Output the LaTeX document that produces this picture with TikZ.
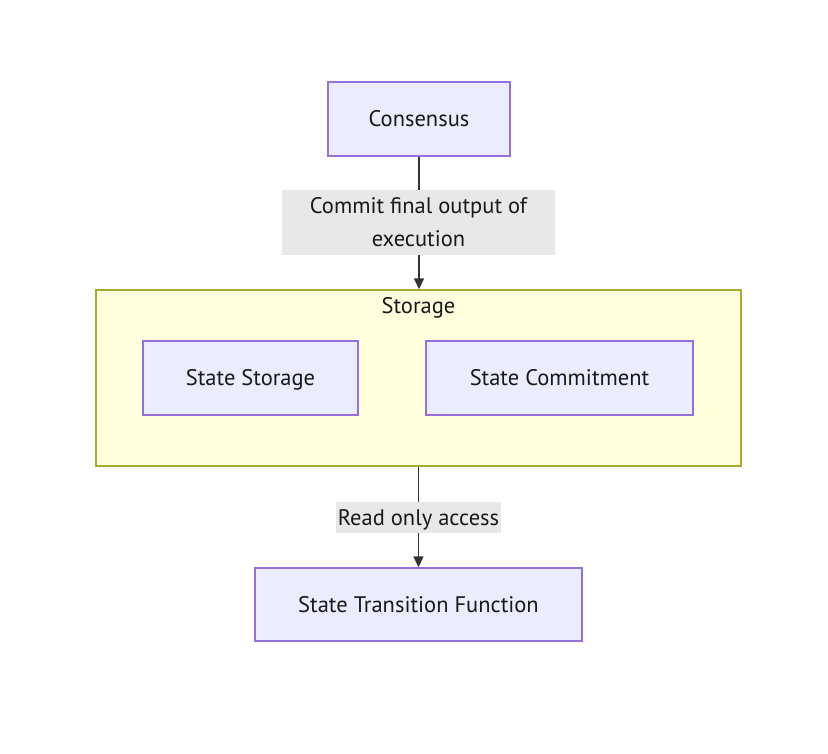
\documentclass[tikz,border=0pt]{standalone}
\usepackage{fontspec}
\setmainfont{PT Sans}
\usetikzlibrary{arrows.meta}
\definecolor{nodefill}{HTML}{ECECFF}
\definecolor{nodeline}{HTML}{9370DB}
\definecolor{clfill}{HTML}{FFFFDE}
\definecolor{clline}{HTML}{AAAA33}
\definecolor{lblbg}{HTML}{E8E8E8}
\definecolor{edge}{HTML}{333333}
\begin{document}
\begin{tikzpicture}[x=1pt,y=-1pt,
  every node/.style={font=\fontsize{22.5}{33}\selectfont, text=black!90, text height=17pt, text depth=2pt},
  box/.style={draw=nodeline, fill=nodefill, line width=1.4pt, rectangle, inner sep=0pt},
  cluster/.style={draw=clline, fill=clfill, line width=1.4pt, rectangle, inner sep=0pt},
  lbl/.style={fill=lblbg, inner sep=0pt, align=center},
  conn/.style={draw=edge, line width=1.4pt, -{Triangle[length=11pt,width=10pt]}}]
\useasboundingbox (0,0) rectangle (828,753);
\fill[white] (0,0) rectangle (828,753);
% cluster
\node[cluster, minimum width=645, minimum height=176] (storage) at (418.5,378) {};
\node (stitle) at (418.5,306) {Storage};
% nodes
\node[box, minimum width=182, minimum height=74] (consensus) at (419,119) {Consensus};
\node[box, minimum width=215, minimum height=74] (sstore) at (250.5,378) {State Storage};
\node[box, minimum width=267, minimum height=74] (scommit) at (559.5,378) {State Commitment};
\node[box, minimum width=327, minimum height=73] (stf) at (418.5,604.5) {State Transition Function};
% edges
\draw[conn] (consensus.south) -- (consensus.south |- storage.north);
\draw[conn] (storage.south -| stf.north) -- (stf.north);
% edge labels
\node[lbl, minimum width=273, minimum height=65, text height=, text depth=] (l1) at (418.5,222.5) {Commit final output of\\execution};
\node[lbl, minimum width=165, minimum height=31] (l2) at (418.5,517.5) {Read only access};
\end{tikzpicture}
\end{document}
